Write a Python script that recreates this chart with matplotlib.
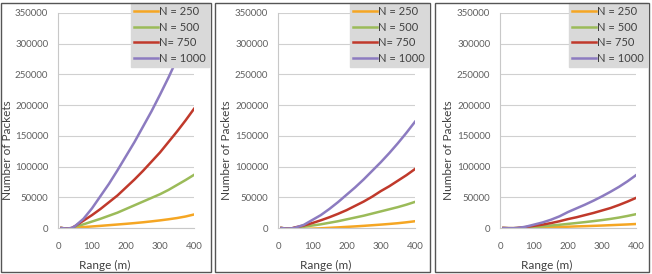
import matplotlib.pyplot as plt
from matplotlib.patches import Rectangle

plt.rcParams['font.family'] = ['Lato', 'DejaVu Sans']

W, H = 652, 274

range_m = [10, 25, 40, 50, 75, 100, 125, 150, 175, 200, 225, 250, 275, 300, 325, 350, 375, 400]
labels = ["N = 250", "N = 500", "N= 750", "N = 1000"]
colors = ["#F5A623", "#9BBB59", "#C0392B", "#8C7BC0"]

# panel 1
p1_n250 = [0, -1000, -500, 500, 1500, 2500, 3500, 4600, 5700, 6800, 8000, 9300, 10800, 12400, 14200, 16200, 18700, 22000]
p1_n500 = [0, -1000, -500, 2000, 6000, 10500, 15000, 20000, 25000, 31000, 37000, 43000, 49000, 55000, 62000, 70000, 78000, 86500]
p1_n750 = [0, -1000, 0, 3000, 12000, 21000, 31000, 42000, 53000, 66000, 79000, 93000, 108000, 123000, 140000, 157000, 175000, 194000]
p1_n1000 = [0, -1000, 0, 3000, 15000, 32000, 52000, 72000, 94000, 117000, 140000, 165000, 190000, 217000, 245000, 275000, 308000, 342000]

# panel 2
p2_n250 = [0, -1000, -1200, -1500, -1500, -1000, -500, 300, 1000, 1800, 2600, 3500, 4500, 5500, 6600, 7800, 9300, 11000]
p2_n500 = [0, -1000, -800, 500, 2000, 4000, 6000, 8500, 11000, 14000, 17000, 20000, 23500, 27000, 30500, 34000, 38000, 42500]
p2_n750 = [0, -1000, -600, 1000, 4000, 8000, 12500, 17500, 23000, 29000, 36000, 43000, 51000, 60000, 68000, 77000, 86000, 96000]
p2_n1000 = [0, -1000, -500, 500, 5000, 13000, 21000, 31000, 42000, 54000, 66000, 79000, 93000, 107000, 122000, 138000, 155000, 173000]

# panel 3
p3_n250 = [0, -300, -400, -300, 0, 500, 900, 1300, 1700, 2100, 2600, 3000, 3500, 4000, 4600, 5200, 5800, 6500]
p3_n500 = [0, -300, -300, 0, 700, 1800, 2800, 4000, 5300, 6700, 8100, 9600, 11200, 12900, 14800, 17000, 19600, 22500]
p3_n750 = [0, -300, -300, 0, 1500, 3500, 5500, 8000, 11000, 14500, 17500, 21000, 24500, 28500, 32500, 37500, 43000, 49000]
p3_n1000 = [0, -300, -300, 0, 2000, 5500, 9000, 13500, 19000, 26000, 32000, 38000, 44500, 51500, 59000, 67000, 76000, 86000]

panels = [
    [p1_n250, p1_n500, p1_n750, p1_n1000],
    [p2_n250, p2_n500, p2_n750, p2_n1000],
    [p3_n250, p3_n500, p3_n750, p3_n1000],
]

# pixel layout: frame (left, right), plot (left, right), y label centre
frames = [(1, 211), (215, 430), (435, 649)]
plots = [(58, 194), (278, 415), (500, 636)]
ylabel_x = [8, 227, 448]
plot_top, plot_bottom = 13, 228

fig = plt.figure(figsize=(W / 100, H / 100), dpi=100)

for (fl, fr) in frames:
    fig.patches.append(Rectangle((fl / W, 1 - 272 / H), (fr - fl) / W, (272 - 3) / H,
                                 transform=fig.transFigure, fill=False,
                                 edgecolor="#555555", linewidth=1.0))

for i, series in enumerate(panels):
    pl, pr = plots[i]
    ax = fig.add_axes([pl / W, 1 - plot_bottom / H, (pr - pl) / W, (plot_bottom - plot_top) / H])
    for vals, lab, col in zip(series, labels, colors):
        ax.plot(range_m, vals, color=col, linewidth=1.8, label=lab, solid_joinstyle="round")
    ax.set_xlim(0, 400)
    ax.set_ylim(0, 350000)
    ax.set_xticks([0, 100, 200, 300, 400])
    ax.set_yticks(range(0, 350001, 50000))
    ax.grid(axis="y", color="#d0d0d0", linewidth=0.8)
    ax.set_axisbelow(True)
    for side in ["top", "right"]:
        ax.spines[side].set_visible(False)
    for side in ["left", "bottom"]:
        ax.spines[side].set_color("#c8c8c8")
    ax.tick_params(length=0, labelsize=7, colors="#606060", pad=7)
    ax.tick_params(axis="x", pad=10)

    ax.set_xlabel("Range (m)", fontsize=8.5, color="#404040", va="center")
    ax.xaxis.set_label_coords(0.345, (plot_bottom - 265) / (plot_bottom - plot_top))
    ax.set_ylabel("Number of Packets", fontsize=8.5, color="#404040", va="center")
    ax.yaxis.set_label_coords((ylabel_x[i] - pl) / (pr - pl), (plot_bottom - 150) / (plot_bottom - plot_top))

    fr = frames[i][1]
    leg = ax.legend(loc="upper right", bbox_to_anchor=((fr - 2) / W, 1 - 3 / H),
                    bbox_transform=fig.transFigure, fontsize=8, frameon=True,
                    fancybox=False, borderaxespad=0, handlelength=2.1,
                    handletextpad=0.1, labelspacing=0.4, borderpad=0.3)
    leg.get_frame().set_facecolor("#d9d9d9")
    leg.get_frame().set_edgecolor("#d9d9d9")
    leg.get_frame().set_alpha(1)
    for t in leg.get_texts():
        t.set_color("#404040")

fig.savefig("out.png", dpi=100)
